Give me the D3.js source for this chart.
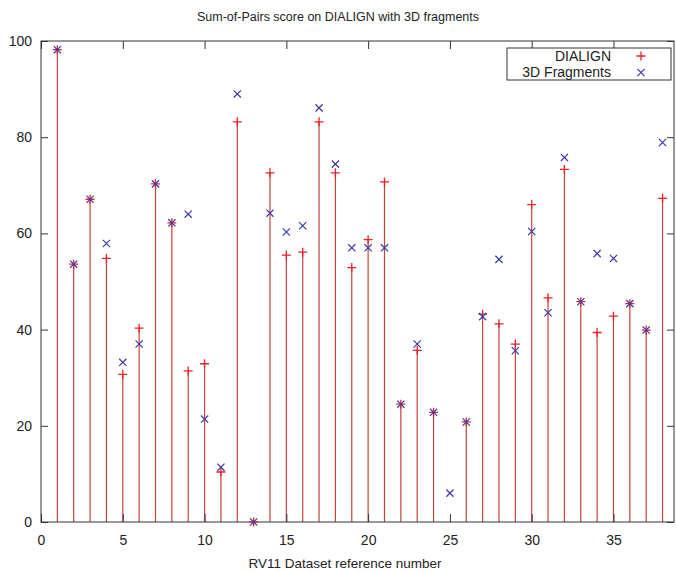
<!DOCTYPE html>
<html>
<head>
<meta charset="utf-8">
<script src="https://d3js.org/d3.v7.min.js"></script>
<style>
    body { margin: 0; background: #fff; }
    text { font-family: "Liberation Sans", Arial, sans-serif; fill: #222; }
</style>
</head>
<body>
<div></div>
<script>
// reference numbers 1..38
let refs = d3.range(1, 39)

let dialign = [98.2, 53.6, 67.1, 54.8, 30.7, 40.3, 70.3, 62.2, 31.4, 32.9,
    10.4, 83.2, 0, 72.6, 55.5, 56.1, 83.2, 72.6, 52.9, 58.7,
    70.7, 24.5, 35.7, 22.8, null, 20.8, 43.2, 41.2, 37.0, 66.0,
    46.6, 73.3, 45.8, 39.4, 42.8, 45.4, 39.9, 67.3]

let fragments = [98.2, 53.6, 67.1, 57.9, 33.2, 37.0, 70.3, 62.2, 64.0, 21.4,
    11.4, 89.0, 0, 64.2, 60.3, 61.6, 86.1, 74.4, 57.0, 57.0,
    57.0, 24.5, 37.0, 22.8, 6.0, 20.8, 42.7, 54.6, 35.6, 60.4,
    43.5, 75.8, 45.8, 55.8, 54.8, 45.4, 39.9, 78.9]

let xTicks = [0, 5, 10, 15, 20, 25, 30, 35]
let yTicks = [0, 20, 40, 60, 80, 100]

let margin = {top: 41, right: 2, bottom: 50, left: 41}
let width = 676 - margin.left - margin.right
let height = 572 - margin.top - margin.bottom

let svg = d3.select("div")
    .append("svg")
    .attr("width", 676)
    .attr("height", 572)
    .append("g")
    .attr("transform", "translate(" + margin.left + "," + margin.top + ")")

let x = d3.scaleLinear()
    .domain([0, 38.7])
    .range([0, width])

let y = d3.scaleLinear()
    .domain([0, 100])
    .range([height, 0])

let red = "#e8202a"
let blue = "#3a3aa8"

// impulses for DIALIGN
svg.selectAll(".imp")
    .data(refs.filter(function (d, i) { return dialign[i] !== null }))
    .enter()
    .append("line")
    .attr("x1", function (d) { return x(d) })
    .attr("x2", function (d) { return x(d) })
    .attr("y1", y(0))
    .attr("y2", function (d) { return y(dialign[d - 1]) })
    .attr("stroke", "#c0443c")
    .attr("stroke-width", 1.2)

// border
svg.append("rect")
    .attr("width", width)
    .attr("height", height)
    .attr("fill", "none")
    .attr("stroke", "#333")
    .attr("stroke-width", 1)

// axes, ticks inward and mirrored
svg.append("g")
    .attr("transform", "translate(0," + height + ")")
    .call(d3.axisBottom(x).tickValues(xTicks).tickSizeInner(-8).tickSizeOuter(0).tickPadding(13))
    .call(function (g) { g.select(".domain").remove() })
svg.append("g")
    .call(d3.axisTop(x).tickValues(xTicks).tickSizeInner(-8).tickSizeOuter(0).tickFormat(""))
    .call(function (g) { g.select(".domain").remove() })
svg.append("g")
    .call(d3.axisLeft(y).tickValues(yTicks).tickSizeInner(-7).tickSizeOuter(0).tickPadding(9))
    .call(function (g) { g.select(".domain").remove() })
svg.append("g")
    .attr("transform", "translate(" + width + ",0)")
    .call(d3.axisRight(y).tickValues(yTicks).tickSizeInner(-7).tickSizeOuter(0).tickFormat(""))
    .call(function (g) { g.select(".domain").remove() })

svg.selectAll(".tick line").attr("stroke", "#333")
svg.selectAll(".tick text")
    .style("font-family", "'Liberation Sans', Arial, sans-serif")
    .style("font-size", "14px")
    .attr("fill", "#222")

function plus(sel, s) {
    sel.attr("d", "M" + (-s) + ",0H" + s + "M0," + (-s) + "V" + s)
}
function cross(sel, s) {
    sel.attr("d", "M" + (-s) + "," + (-s) + "L" + s + "," + s + "M" + (-s) + "," + s + "L" + s + "," + (-s))
}

// DIALIGN points
svg.selectAll(".pd")
    .data(refs.filter(function (d, i) { return dialign[i] !== null }))
    .enter()
    .append("path")
    .attr("transform", function (d) { return "translate(" + x(d) + "," + y(dialign[d - 1]) + ")" })
    .call(plus, 4.5)
    .attr("stroke", red)
    .attr("stroke-width", 1.3)

// 3D fragments points
svg.selectAll(".pf")
    .data(refs)
    .enter()
    .append("path")
    .attr("transform", function (d) { return "translate(" + x(d) + "," + y(fragments[d - 1]) + ")" })
    .call(cross, 3.6)
    .attr("stroke", blue)
    .attr("stroke-width", 1.2)

// legend
let legend = svg.append("g")
    .attr("transform", "translate(" + (507 - margin.left) + "," + (48 - margin.top) + ")")
legend.append("rect")
    .attr("width", 164)
    .attr("height", 32)
    .attr("fill", "#fff")
    .attr("stroke", "#333")
legend.append("text")
    .attr("x", 104).attr("y", 13)
    .attr("text-anchor", "end")
    .style("font-size", "14px")
    .text("DIALIGN")
legend.append("text")
    .attr("x", 104).attr("y", 29)
    .attr("text-anchor", "end")
    .style("font-size", "14px")
    .text("3D Fragments")
legend.append("path")
    .attr("transform", "translate(134,8)")
    .call(plus, 4.5)
    .attr("stroke", red)
    .attr("stroke-width", 1.3)
legend.append("path")
    .attr("transform", "translate(134,24.5)")
    .call(cross, 3.6)
    .attr("stroke", blue)
    .attr("stroke-width", 1.2)

// titles
svg.append("text")
    .attr("x", 338 - margin.left)
    .attr("y", 21 - margin.top)
    .attr("text-anchor", "middle")
    .style("font-size", "12.5px")
    .text("Sum-of-Pairs score on DIALIGN with 3D fragments")

svg.append("text")
    .attr("x", 345 - margin.left)
    .attr("y", 568 - margin.top)
    .attr("text-anchor", "middle")
    .style("font-size", "13.5px")
    .text("RV11 Dataset reference number")
</script>
</body>
</html>
